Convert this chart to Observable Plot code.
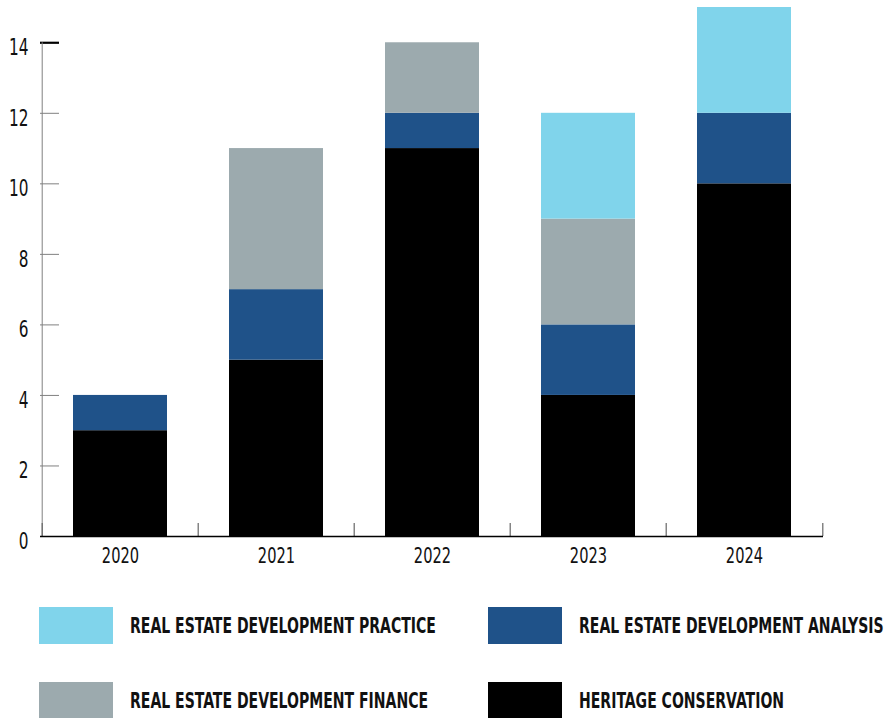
<!DOCTYPE html>
<html><head><meta charset="utf-8">
<script src="https://cdn.jsdelivr.net/npm/d3@7"></script>
<script src="https://cdn.jsdelivr.net/npm/@observablehq/plot@0.6"></script>
<style>
body{margin:0;background:#fff;}
#chart svg{display:block}
</style></head><body><div id="chart"></div>
<script>
const years = ["2020","2021","2022","2023","2024"];
const programs = ["REAL ESTATE DEVELOPMENT PRACTICE","REAL ESTATE DEVELOPMENT ANALYSIS","REAL ESTATE DEVELOPMENT FINANCE","HERITAGE CONSERVATION"];
const colors = ["#80d4eb","#1f5289","#9caaae","#000000"];
const heritage = [3,5,11,4,10];
const analysis = [1,2,1,2,2];
const finance  = [0,4,2,3,0];
const practice = [0,0,0,3,3];
const yTicks = [0,2,4,6,8,10,12,14];

const FONT = "'DejaVu Sans Condensed','Liberation Sans Narrow','Arial Narrow',sans-serif";
const W = 886, H = 580, mL = 40, mR = 63, mT = 7, mB = 44;
const plotW = W - mL - mR, plotH = H - mT - mB, step = plotW / years.length;

const rows = [];
years.forEach((yr, i) => {
  rows.push({year: yr, program: programs[3], value: heritage[i]});
  rows.push({year: yr, program: programs[1], value: analysis[i]});
  rows.push({year: yr, program: programs[2], value: finance[i]});
  rows.push({year: yr, program: programs[0], value: practice[i]});
});

const chart = Plot.plot({
  width: W, height: H, marginLeft: mL, marginRight: mR, marginTop: mT, marginBottom: mB,
  style: {fontFamily: FONT, background: "white", color: "#111"},
  x: {domain: years, padding: 0, label: null},
  y: {domain: [0, 15], label: null},
  color: {domain: programs, range: colors},
  marks: [
    Plot.barY(rows, {x: "year", y: "value", fill: "program", insetLeft: 31, insetRight: 31, order: null}),
    Plot.ruleY(yTicks.slice(1, -1), {y: d => d, stroke: "#808080", strokeWidth: 1, insetRight: plotW - 19}),
    Plot.ruleY(yTicks.slice(-1), {y: d => d, stroke: "#000", strokeWidth: 2.2, insetRight: plotW - 19}),
    Plot.ruleX(years.slice(0, 1), {x: d => d, dx: -step / 2, y1: 0, y2: 14, stroke: "#808080", strokeWidth: 1}),
    Plot.ruleX(years, {x: d => d, dx: -step / 2, stroke: "#666", strokeWidth: 1.2, insetTop: plotH - 13}),
    Plot.ruleX(years.slice(-1), {x: d => d, dx: step / 2, stroke: "#666", strokeWidth: 1.2, insetTop: plotH - 13}),
    Plot.ruleY([0], {stroke: "#000", strokeWidth: 1.5}),
    Plot.axisY({ticks: yTicks, tickSize: 0, tickPadding: 12, fontSize: 23, dy: 5, fill: "#111"}),
    Plot.axisX({tickSize: 0, tickPadding: 11, fontSize: 22, fill: "#111"})
  ]
});
document.getElementById("chart").appendChild(chart);

// horizontally condense a text element about its anchor point
function condense(el, k) {
  const t = el.getAttribute("transform");
  if (t) el.setAttribute("transform", t + ` scale(${k},1)`);
  else {
    const x = +el.getAttribute("x") || 0;
    el.setAttribute("transform", `translate(${x},0) scale(${k},1) translate(${-x},0)`);
  }
}
d3.select(chart).selectAll("g[aria-label$='tick label'] text").each(function() { condense(this, 0.74); });

// Legend below the chart
const legendOrder = [
  {label: programs[0], color: colors[0], col: 0, row: 0},
  {label: programs[1], color: colors[1], col: 1, row: 0},
  {label: programs[2], color: colors[2], col: 0, row: 1},
  {label: programs[3], color: colors[3], col: 1, row: 1}
];
const colX = [39, 488], rowY = [27, 102];
const legend = d3.create("svg").attr("width", W).attr("height", 138).style("display", "block")
  .attr("font-family", FONT);
const g = legend.selectAll("g").data(legendOrder).join("g")
  .attr("transform", d => `translate(${colX[d.col]},${rowY[d.row]})`);
g.append("rect").attr("width", 74).attr("height", 37).attr("fill", d => d.color);
const texts = g.append("text").attr("x", 91).attr("y", 18.5).attr("dy", "0.36em")
  .attr("font-size", 21).attr("font-weight", "bold").attr("fill", "#111")
  .text(d => d.label);
document.getElementById("chart").appendChild(legend.node());
const first = texts.node().getComputedTextLength();
const k = first > 0 ? 306 / first : 0.7;
texts.each(function() { condense(this, k); });
</script>
</body></html>
